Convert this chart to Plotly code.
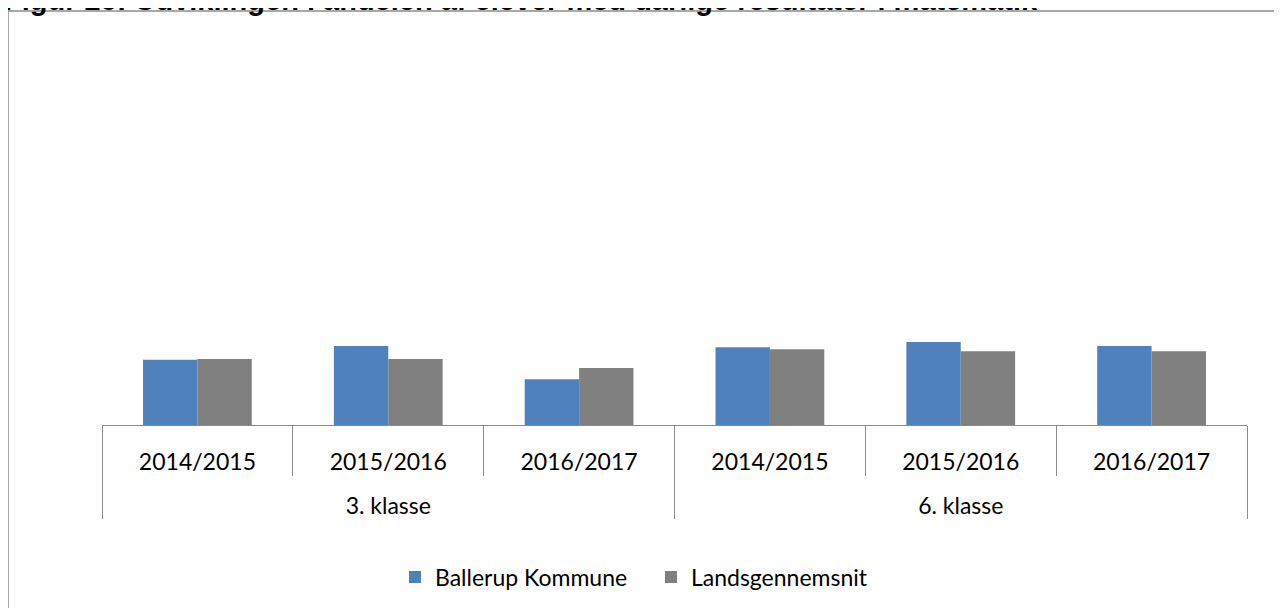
import plotly.graph_objects as go

klasse = ["3. klasse"] * 3 + ["6. klasse"] * 3
years = ["2014/2015", "2015/2016", "2016/2017"] * 2
ballerup = [16.5, 20.0, 11.6, 19.7, 21.0, 20.0]
lands = [16.7, 16.7, 14.4, 19.2, 18.7, 18.7]
series_names = ["Ballerup Kommune", "Landsgennemsnit"]
title_text = "Figur 25: Udviklingen i andelen af elever med dårlige resultater i matematik"

W, H = 1282, 608
OFF = 8  # page body margin
L, R, T, B = 102 - OFF, 1247 - OFF, 30 - OFF, 425 - OFF


def px_x(p):
    return (p - OFF - L) / (R - L)


def px_y(p):
    return (B - (p - OFF)) / (B - T)


# outer level labels pushed one line down (Excel-style two-row axis)
klasse_disp = ["<br>" + k for k in klasse]

fig = go.Figure()
fig.add_trace(go.Bar(x=[klasse_disp, years], y=ballerup, name=series_names[0],
                     marker=dict(color="#4F81BD", line=dict(width=0))))
fig.add_trace(go.Bar(x=[klasse_disp, years], y=lands, name=series_names[1],
                     marker=dict(color="#808080", line=dict(width=0))))

fig.update_layout(
    width=W, height=H,
    margin=dict(l=L, r=W - R, t=T, b=H - B),
    paper_bgcolor="white", plot_bgcolor="white",
    barmode="group", bargap=0.43, bargroupgap=0,
    font=dict(family="Lato, 'Open Sans', sans-serif", size=23, color="black"),
    showlegend=True,
    legend=dict(orientation="h", x=px_x(395), xanchor="left", y=px_y(577), yanchor="middle",
                font=dict(size=23), traceorder="normal",
                entrywidth=211, entrywidthmode="pixels"),
    xaxis=dict(type="multicategory", showline=True, linecolor="#8c8c8c", linewidth=1,
               ticks="outside", tickson="boundaries", ticklen=50, tickcolor="#8c8c8c",
               showdividers=True, dividercolor="#8c8c8c", dividerwidth=1,
               ticklabelstandoff=16,
               showgrid=False, tickfont=dict(size=23)),
    yaxis=dict(range=[0, 100], visible=False, showgrid=False, zeroline=False),
)

# chart frame
fig.add_shape(type="rect", xref="paper", yref="paper",
              x0=px_x(8), x1=px_x(1320), y0=px_y(11), y1=px_y(660),
              line=dict(color="#8c8c8c", width=1.5), fillcolor="rgba(0,0,0,0)", layer="below")

# title (partially cut at top)
fig.add_annotation(text=title_text, xref="paper", yref="paper",
                   x=px_x(2), xanchor="left", y=px_y(18), yanchor="bottom",
                   showarrow=False,
                   font=dict(family="Liberation Sans, Arial, sans-serif", size=29,
                             weight="bold", color="black"))

fig.write_html("out.html")
